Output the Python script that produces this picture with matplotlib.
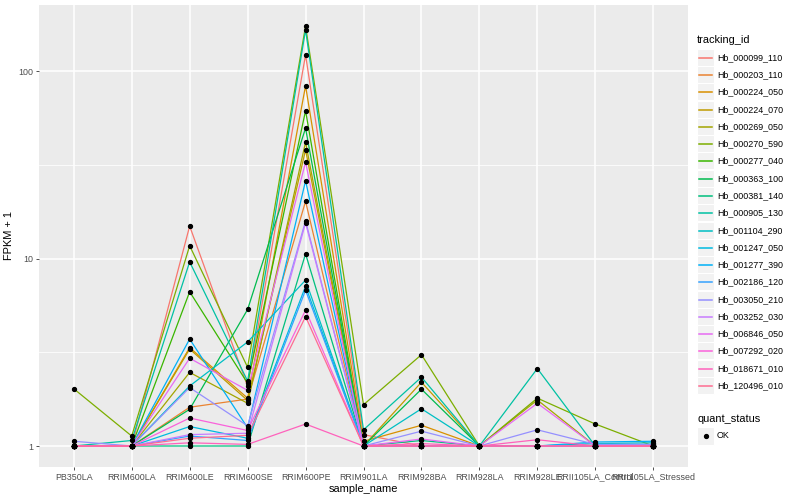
import matplotlib
matplotlib.use("Agg")
import matplotlib.pyplot as plt
import numpy as np

plt.rcParams["font.family"] = ["Liberation Sans", "DejaVu Sans"]

samples = ["PB350LA", "RRIM600LA", "RRIM600LE", "RRIM600SE", "RRIM600PE",
           "RRIM901LA", "RRIM928BA", "RRIM928LA", "RRIM928LE",
           "RRII105LA_Control", "RRII105LA_Stressed"]

tracking_ids = ["Hb_000099_110", "Hb_000203_110", "Hb_000224_050", "Hb_000224_070",
                "Hb_000269_050", "Hb_000270_590", "Hb_000277_040", "Hb_000363_100",
                "Hb_000381_140", "Hb_000905_130", "Hb_001104_290", "Hb_001247_050",
                "Hb_001277_390", "Hb_002186_120", "Hb_003050_210", "Hb_003252_030",
                "Hb_006846_050", "Hb_007292_020", "Hb_018671_010", "Hb_120496_010"]

colors = ["#F8766D", "#EA8331", "#D89000", "#C09B00", "#A3A500", "#7CAE00",
          "#39B600", "#00BB4E", "#00BF7D", "#00C1A3", "#00BFC4", "#00BAE0",
          "#00B0F6", "#35A2FF", "#9590FF", "#C77CFF", "#E76BF3", "#FA62DB",
          "#FF62BC", "#FF6C91"]

# FPKM + 1, one row per tracking_id, one column per sample
fpkm = [
    [1.00, 1.00, 14.9, 2.08, 122.0, 1.15, 1.00, 1.0, 1.00, 1.00, 1.00],
    [1.00, 1.00, 1.61, 1.78, 20.2, 1.00, 1.00, 1.0, 1.00, 1.00, 1.00],
    [1.00, 1.00, 3.35, 1.80, 83.5, 1.06, 1.29, 1.0, 1.00, 1.00, 1.00],
    [1.00, 1.00, 3.29, 1.75, 38.0, 1.00, 2.19, 1.0, 1.00, 1.00, 1.00],
    [1.00, 1.00, 2.47, 1.69, 41.8, 1.00, 1.00, 1.0, 1.76, 1.00, 1.00],
    [2.02, 1.13, 11.7, 2.63, 174.0, 1.66, 3.07, 1.0, 1.80, 1.31, 1.00],
    [1.00, 1.00, 6.65, 2.16, 61.5, 1.00, 1.00, 1.0, 1.00, 1.00, 1.00],
    [1.00, 1.00, 1.57, 5.35, 49.6, 1.00, 2.01, 1.0, 1.00, 1.00, 1.00],
    [1.00, 1.00, 1.00, 1.00, 10.6, 1.00, 1.07, 1.0, 1.00, 1.00, 1.00],
    [1.00, 1.07, 9.60, 2.22, 166.0, 1.22, 2.33, 1.0, 2.59, 1.00, 1.00],
    [1.00, 1.00, 2.09, 3.59, 7.67, 1.00, 1.58, 1.0, 1.00, 1.03, 1.04],
    [1.00, 1.00, 1.27, 1.10, 7.12, 1.00, 1.00, 1.0, 1.00, 1.00, 1.00],
    [1.00, 1.00, 3.72, 1.25, 26.0, 1.00, 1.00, 1.0, 1.00, 1.05, 1.06],
    [1.00, 1.00, 1.13, 1.07, 6.78, 1.00, 1.00, 1.0, 1.00, 1.00, 1.00],
    [1.06, 1.00, 2.05, 1.28, 15.9, 1.00, 1.20, 1.0, 1.22, 1.02, 1.02],
    [1.00, 1.00, 1.15, 1.17, 15.5, 1.00, 1.00, 1.0, 1.00, 1.00, 1.00],
    [1.00, 1.00, 2.94, 1.98, 32.7, 1.00, 1.09, 1.0, 1.69, 1.00, 1.00],
    [1.00, 1.00, 1.41, 1.21, 5.31, 1.00, 1.00, 1.0, 1.00, 1.00, 1.00],
    [1.00, 1.00, 1.04, 1.02, 1.31, 1.00, 1.03, 1.0, 1.08, 1.00, 1.00],
    [1.00, 1.00, 1.10, 1.14, 4.90, 1.00, 1.00, 1.0, 1.00, 1.00, 1.00],
]

W, H = 800, 500
fig = plt.figure(figsize=(8, 5), dpi=100)
# panel in pixels: left 39, right 688, top 5, bottom 467
ax = fig.add_axes([39 / W, (H - 467) / H, 649 / W, 462 / H])
ax.set_facecolor("#EBEBEB")
for s in ax.spines.values():
    s.set_visible(False)

x = np.arange(len(samples))
vals = np.array(fpkm)

ax.set_yscale("log")
lo, hi = np.log10(vals.min()), np.log10(vals.max())
pad = 0.05 * (hi - lo)
ax.set_ylim(10 ** (lo - pad), 10 ** (hi + pad))
ax.set_xlim(-0.6, len(samples) - 0.4)

# grid: major at 1/10/100, minor halfway in log space
for v in [10 ** -0.5, 10 ** 0.5, 10 ** 1.5]:
    ax.axhline(v, color="white", lw=0.55, zorder=0)
for v in [1, 10, 100]:
    ax.axhline(v, color="white", lw=1.1, zorder=0)
for xi in x:
    ax.axvline(xi, color="white", lw=1.1, zorder=0)

for i, tid in enumerate(tracking_ids):
    ax.plot(x, vals[i], color=colors[i], lw=0.9, zorder=2)
for i in range(len(tracking_ids)):
    ax.plot(x, vals[i], "o", color="black", ms=2.8, zorder=3, ls="none")

ax.set_yticks([1, 10, 100])
ax.set_yticklabels(["1", "10", "100"])
ax.yaxis.set_minor_locator(matplotlib.ticker.NullLocator())
ax.set_xticks(x)
ax.set_xticklabels(samples)
ax.tick_params(axis="both", colors="#333333", labelsize=6.4, length=2.5,
               width=0.6, pad=1.5, labelcolor="#4D4D4D")
ax.set_xlabel("sample_name", fontsize=7.9, labelpad=1.5)
ax.set_ylabel("FPKM + 1", fontsize=7.9, labelpad=3)

# legend drawn in pixel coordinates
lax = fig.add_axes([0, 0, 1, 1])
lax.set_xlim(0, W)
lax.set_ylim(H, 0)
lax.axis("off")
lax.text(697, 40, "tracking_id", fontsize=7.9, va="center", ha="left")
step = 17.28
for i, tid in enumerate(tracking_ids):
    cy = round(56.7 + step * i) + 0.5
    lax.add_patch(plt.Rectangle((697, cy - step / 2), 17.28, step,
                                facecolor="#F2F2F2", edgecolor="white", lw=0.8))
    lax.plot([699, 712], [cy, cy], color=colors[i], lw=1.1, zorder=3)
    lax.text(717, cy, tid, fontsize=6.4, va="center", ha="left")
lax.text(697, 419, "quant_status", fontsize=7.9, va="center", ha="left")
lax.add_patch(plt.Rectangle((697, 436 - step / 2), 17.28, step,
                            facecolor="#F2F2F2", edgecolor="white", lw=0.8))
lax.plot([705.6], [436], "o", color="black", ms=2.8)
lax.text(717, 436, "OK", fontsize=6.4, va="center", ha="left")

fig.savefig("out.png", dpi=100)
